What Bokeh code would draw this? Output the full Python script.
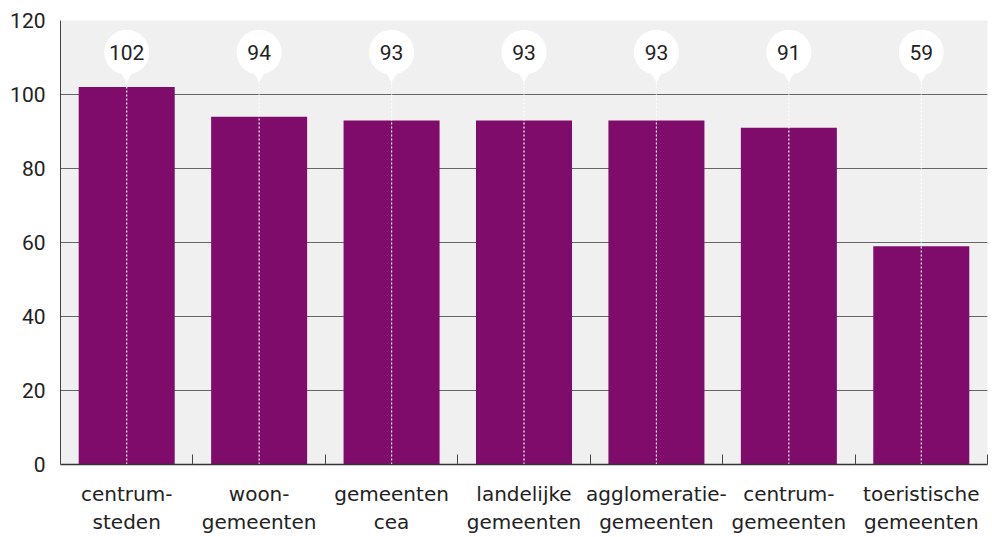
from bokeh.plotting import figure
from bokeh.models import FixedTicker, ColumnDataSource, Range1d
from bokeh.core.properties import value
from bokeh.embed import file_html
from bokeh.resources import INLINE

categories = ["centrum-\nsteden", "woon-\ngemeenten", "gemeenten\ncea", "landelijke\ngemeenten",
              "agglomeratie-\ngemeenten", "centrum-\ngemeenten", "toeristische\ngemeenten"]
values = [102, 94, 93, 93, 93, 91, 59]
y_ticks = [0, 20, 40, 60, 80, 100, 120]

NUM_FONT = "Roboto"
CAT_FONT = "DejaVu Sans"
BAR = "#7f0c6b"
n = len(categories)
xs = [i + 0.5 for i in range(n)]
bubble_y = 111.4

src = ColumnDataSource(dict(x=xs, top=values, label=[str(v) for v in values],
                            by=[bubble_y] * n, ty=[105.0] * n, ly=[103.5] * n, zero=[0] * n))

p = figure(width=992, height=537, output_backend="svg", toolbar_location=None,
           x_range=Range1d(0, n), y_range=Range1d(0, 120),
           min_border_left=60, min_border_right=5, min_border_top=20, min_border_bottom=72)
p.outline_line_color = None
p.background_fill_color = "#f0f0f0"
p.border_fill_color = "white"

p.vbar(x="x", top="top", width=0.725, bottom=0, source=src, fill_color=BAR, line_color=None)
p.segment(x0="x", y0="zero", x1="x", y1="ly", source=src, line_color="white",
          line_width=1.2, line_dash="2 2")
p.scatter(x="x", y="ty", source=src, marker="inverted_triangle", size=11,
          fill_color="white", line_color=None)
p.scatter(x="x", y="by", source=src, marker="circle", size=45,
          fill_color="white", line_color=None)
p.text(x="x", y="by", text="label", source=src, text_align="center", text_baseline="middle",
       text_font=value(NUM_FONT), text_font_size="21px", text_color="#222222")

p.xgrid.visible = False
p.ygrid.ticker = FixedTicker(ticks=y_ticks)
p.ygrid.grid_line_color = "#666666"
p.ygrid.grid_line_width = 1

p.yaxis.ticker = FixedTicker(ticks=y_ticks)
p.yaxis.major_tick_out = 0
p.yaxis.major_tick_in = 0
p.yaxis.minor_tick_line_color = None
p.yaxis.axis_line_color = "#444444"
p.yaxis.major_label_text_font = NUM_FONT
p.yaxis.major_label_text_font_size = "21px"
p.yaxis.major_label_text_color = "#222222"
p.yaxis.major_label_standoff = 15

p.xaxis.ticker = FixedTicker(ticks=xs, minor_ticks=[i + 1 for i in range(n)])
p.xaxis.major_label_overrides = {x: c for x, c in zip(xs, categories)}
p.xaxis.major_tick_in = 0
p.xaxis.major_tick_out = 0
p.xaxis.minor_tick_in = 10
p.xaxis.minor_tick_out = 0
p.xaxis.minor_tick_line_color = "#444444"
p.xaxis.axis_line_color = "#333333"
p.xaxis.axis_line_width = 1.5
p.xaxis.major_label_text_font = CAT_FONT
p.xaxis.major_label_text_font_size = "20px"
p.xaxis.major_label_text_color = "#222222"
p.xaxis.major_label_standoff = 17

open("out.html", "w").write(file_html(p, INLINE))
